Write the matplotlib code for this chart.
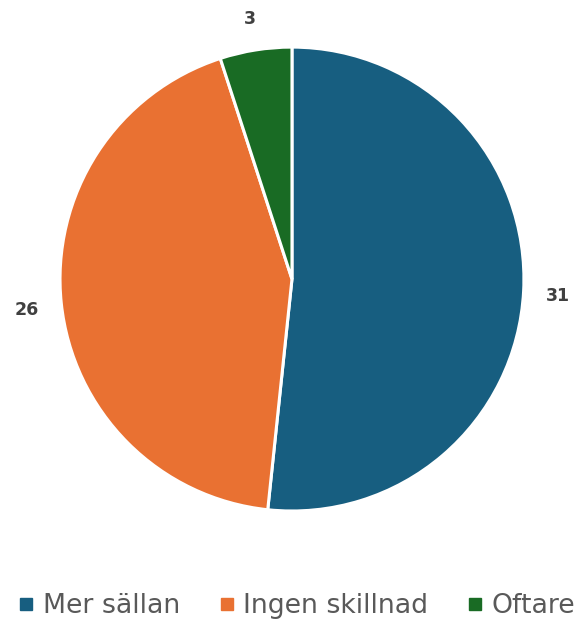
import matplotlib
matplotlib.use("Agg")
import matplotlib.pyplot as plt
from matplotlib.lines import Line2D
import numpy as np

categories = ["Mer sällan", "Ingen skillnad", "Oftare"]
values = [31, 26, 3]
colors = ["#175E80", "#E97132", "#196B24"]

total = sum(values)

fig = plt.figure(figsize=(5.85, 6.24), dpi=100)
ax = fig.add_axes([0.1026, 0.181, 0.793, 0.7436])

wedges, texts = ax.pie(
    values,
    colors=colors,
    startangle=90,
    counterclock=False,
    wedgeprops=dict(edgecolor="white", linewidth=2.2),
    radius=1.0,
)
ax.set_xlim(-1, 1)
ax.set_ylim(-1, 1)
ax.set_aspect("equal")

angle = 90.0
for v in values:
    span = v / total * 360.0
    mid = np.deg2rad(angle - span / 2)
    ax.text(1.15 * np.cos(mid), 1.15 * np.sin(mid) - 0.015, str(v),
            ha="center", va="center", fontsize=12.5, fontweight="bold",
            color="#404040", clip_on=False)
    angle -= span

handles = [Line2D([0], [0], marker="s", linestyle="none", markersize=9,
                  markerfacecolor=c, markeredgecolor=c) for c in colors]
fig.legend(handles, categories, loc="center", bbox_to_anchor=(0.506, 0.029),
           ncol=3, frameon=False, fontsize=19.3, handletextpad=0.28,
           columnspacing=1.37, handlelength=0.7, labelcolor="#595959")

fig.savefig("out.png", dpi=100)
